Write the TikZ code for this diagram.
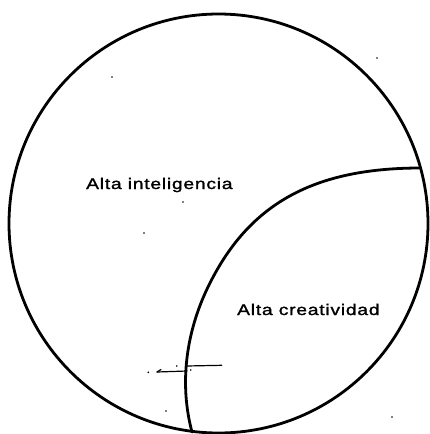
\documentclass[tikz,border=0pt]{standalone}
\usepackage{fontspec}
\newfontfamily\lblfont[FakeStretch=1.25,LetterSpace=5,FakeBold=1.5]{Liberation Sans}
\tikzset{
  outline/.style={line width=2.8pt, line cap=round, line join=round},
  mark line/.style={line width=1.2pt, line cap=round},
  speck/.style={fill=black, draw=none},
  lbl/.style={anchor=base west, inner sep=0pt, font=\lblfont\fontsize{15.4}{18}\selectfont}
}
\begin{document}
\begin{tikzpicture}[x=1pt,y=-1pt]
\useasboundingbox (0,0) rectangle (430,434);
% outer circle
\draw[outline] (218.5,223.5) circle[radius=209.5];
% inner arc
\coordinate (aR) at (420.5,168);
\coordinate (aM) at (208,287);
\coordinate (aB) at (192,432);
\draw[outline] (aR) .. controls (310.5,168) and (247.3,206) .. (aM)
  .. controls (186.2,332) and (179,383.5) .. (aB);
% labels
\node[lbl] (intel) at (86,189) {Alta inteligencia};
\node[lbl] (creat) at (237,315) {Alta creatividad};
% small marks near the lower crossing
\coordinate (m1) at (157,372);
\coordinate (m2) at (161,369.5);
\coordinate (m3) at (187,371);
\coordinate (m4) at (186.7,366);
\coordinate (m5) at (221.7,365.3);
\draw[mark line] (m1) -- (m2);
\draw[mark line] (m1) -- (m3);
\draw[mark line] (m4) -- (m5);
% specks
\foreach \p in {(377,58),(112,77),(183,202),(144,233),(166,411),(392,417),(148.3,372.3),(176.7,366),(190.7,370)}
  \fill[speck] \p circle[radius=0.9];
\end{tikzpicture}
\end{document}
